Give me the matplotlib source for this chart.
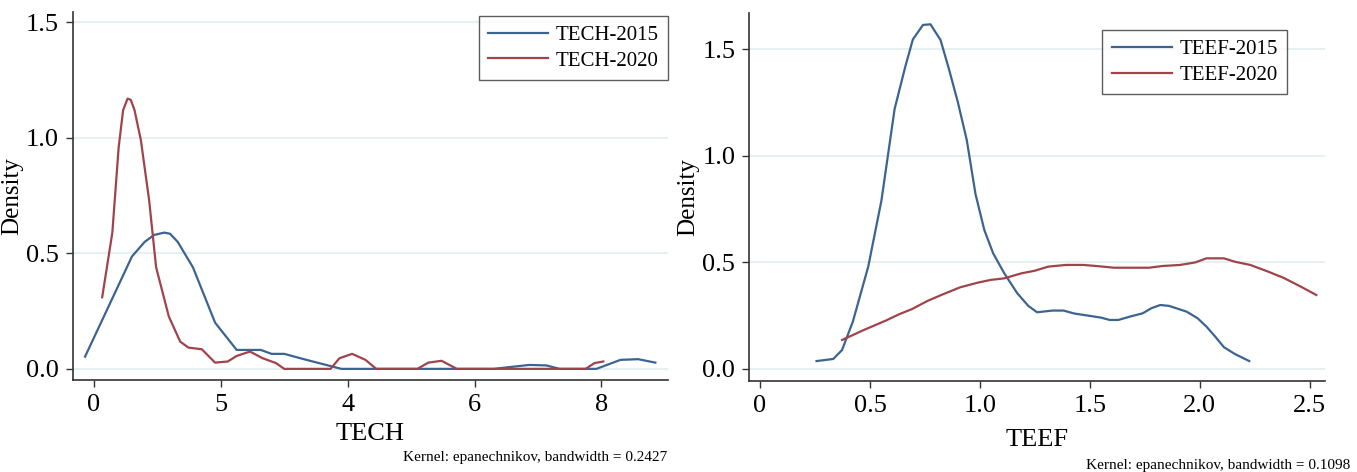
import matplotlib
matplotlib.use('Agg')
import matplotlib.pyplot as plt

plt.rcParams['font.family'] = ['Liberation Serif', 'DejaVu Serif']

# TECH 核密度曲线
tech2015_x = [-0.14, 0.6, 0.8, 0.95, 1.11, 1.2, 1.32, 1.56, 1.91, 2.25, 2.63, 2.8, 3.0, 3.35, 3.76, 3.9,
              6.3, 6.86, 7.13, 7.34, 7.92, 8.3, 8.58, 8.85]
tech2015_y = [0.053, 0.487, 0.55, 0.58, 0.59, 0.585, 0.55, 0.44, 0.2, 0.082, 0.082, 0.065, 0.065, 0.039,
              0.01, 0.0, 0.0, 0.017, 0.015, 0.0, 0.0, 0.039, 0.042, 0.027]
tech2020_x = [0.13, 0.29, 0.39, 0.46, 0.53, 0.58, 0.64, 0.74, 0.87, 0.98, 1.18, 1.36, 1.49, 1.7, 1.91, 2.11,
              2.25, 2.46, 2.66, 2.87, 3.0, 3.73, 3.87, 4.07, 4.28, 4.45, 5.1, 5.27, 5.48, 5.72,
              7.75, 7.89, 8.03]
tech2020_y = [0.31, 0.59, 0.96, 1.12, 1.17, 1.165, 1.12, 0.99, 0.73, 0.44, 0.227, 0.118, 0.092, 0.085,
              0.027, 0.032, 0.056, 0.075, 0.046, 0.025, 0.0, 0.0, 0.046, 0.065, 0.039, 0.0, 0.0, 0.027,
              0.035, 0.0, 0.0, 0.025, 0.032]

# TEEF 核密度曲线
teef2015_x = [0.257, 0.333, 0.373, 0.422, 0.492, 0.552, 0.612, 0.661, 0.695, 0.741, 0.775, 0.821,
              0.861, 0.9, 0.94, 0.98, 1.02, 1.06, 1.11, 1.17, 1.22, 1.26, 1.33, 1.38, 1.43, 1.5,
              1.55, 1.59, 1.63, 1.68, 1.74, 1.78, 1.82, 1.86, 1.94, 1.99, 2.03, 2.07, 2.11, 2.16, 2.225]
teef2015_y = [0.037, 0.047, 0.089, 0.222, 0.48, 0.79, 1.22, 1.42, 1.546, 1.614, 1.617, 1.543,
              1.4, 1.25, 1.075, 0.82, 0.652, 0.543, 0.45, 0.355, 0.296, 0.266, 0.274, 0.274, 0.26, 0.249,
              0.241, 0.23, 0.23, 0.245, 0.261, 0.285, 0.3, 0.296, 0.269, 0.238, 0.199, 0.152, 0.102, 0.07, 0.037]
teef2020_x = [0.373, 0.472, 0.572, 0.631, 0.691, 0.761, 0.831, 0.91, 0.99, 1.05, 1.11, 1.19, 1.25,
              1.31, 1.39, 1.47, 1.53, 1.61, 1.69, 1.77, 1.83, 1.91, 1.98, 2.03, 2.11, 2.16, 2.23,
              2.31, 2.38, 2.46, 2.53]
teef2020_y = [0.136, 0.183, 0.227, 0.256, 0.281, 0.319, 0.35, 0.383, 0.405, 0.418, 0.425, 0.449, 0.461,
              0.48, 0.488, 0.488, 0.483, 0.475, 0.475, 0.475, 0.483, 0.488, 0.5, 0.519, 0.519, 0.503, 0.488,
              0.457, 0.428, 0.386, 0.347]

# 刻度
y_ticks = [0, 0.5, 1.0, 1.5]
y_ticklabels = ['0.0', '0.5', '1.0', '1.5']
tech_xticks = [0, 2, 4, 6, 8]
tech_xticklabels = ['0', '5', '4', '6', '8']
teef_xticks = [0, 0.5, 1.0, 1.5, 2.0, 2.5]
teef_xticklabels = ['0', '0.5', '1.0', '1.5', '2.0', '2.5']

blue = '#3b6491'
red = '#a0434b'
grid_c = '#e6f0f0'

fig = plt.figure(figsize=(13.57, 4.72), dpi=100)
ax1 = fig.add_axes([0.0538, 0.195, 0.4385, 0.78])
ax2 = fig.add_axes([0.552, 0.193, 0.4245, 0.779])


def style_axes(ax, xticks, xlabels, xlabel, xlim, ylim, xpad):
    ax.set_xlim(*xlim)
    ax.set_ylim(*ylim)
    ax.set_yticks(y_ticks)
    ax.set_yticklabels(y_ticklabels)
    ax.set_xticks(xticks)
    ax.set_xticklabels(xlabels)
    ax.grid(axis='y', color=grid_c, linewidth=1.5)
    ax.set_axisbelow(True)
    for s in ['top', 'right']:
        ax.spines[s].set_visible(False)
    for s in ['left', 'bottom']:
        ax.spines[s].set_color('#333333')
        ax.spines[s].set_linewidth(1.2)
    ax.tick_params(axis='both', labelsize=19, length=5, width=1, color='#333333', pad=5)
    ax.set_ylabel('Density', fontsize=18, labelpad=2)
    ax.set_xlabel(xlabel, fontsize=19, labelpad=xpad)


def add_legend(ax, anchor):
    leg = ax.legend(loc='upper right', bbox_to_anchor=anchor, borderaxespad=0, fontsize=15,
                    frameon=True, fancybox=False, edgecolor='#333333', handlelength=2.9,
                    handletextpad=0.35, borderpad=0.45, labelspacing=0.3)
    leg.get_frame().set_linewidth(1.0)
    return leg


ax1.plot(tech2015_x, tech2015_y, color=blue, linewidth=1.6, label='TECH-2015')
ax1.plot(tech2020_x, tech2020_y, color=red, linewidth=1.6, label='TECH-2020')
style_axes(ax1, tech_xticks, tech_xticklabels, 'TECH', (-0.33, 9.05), (-0.048, 1.546), 5)
add_legend(ax1, (1.0, 0.989))

ax2.plot(teef2015_x, teef2015_y, color=blue, linewidth=1.6, label='TEEF-2015')
ax2.plot(teef2020_x, teef2020_y, color=red, linewidth=1.6, label='TEEF-2020')
style_axes(ax2, teef_xticks, teef_xticklabels, 'TEEF', (-0.05, 2.57), (-0.056, 1.669), 9)
add_legend(ax2, (0.934, 0.954))

# 核函数说明
fig.text(667 / 1357, 1 - 457 / 472, 'Kernel: epanechnikov, bandwidth = 0.2427',
         ha='right', va='center', fontsize=11)
fig.text(1350 / 1357, 1 - 465 / 472, 'Kernel: epanechnikov, bandwidth = 0.1098',
         ha='right', va='center', fontsize=11)

fig.savefig('out.png', dpi=100)
